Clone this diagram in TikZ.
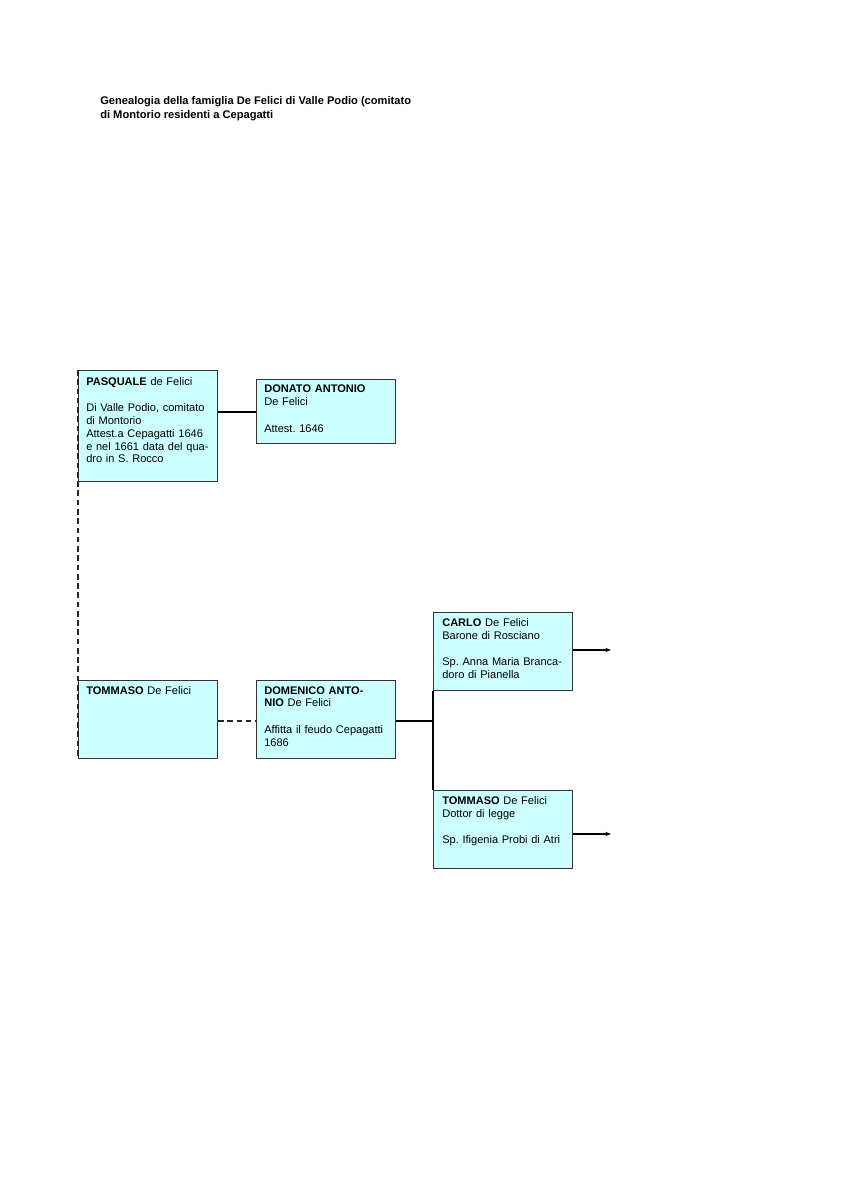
\documentclass[tikz,border=0pt]{standalone}
\usepackage{fontspec}
\setmainfont{Liberation Sans}
\usetikzlibrary{arrows.meta}
\frenchspacing
\definecolor{boxfill}{HTML}{CCFFFF}
\definecolor{boxline}{HTML}{333333}
\tikzset{
  fam/.style={draw=boxline, line width=0.7pt, fill=boxfill, rectangle, inner sep=0pt, anchor=north west,
    minimum width={139*0.7016pt}, minimum height={#1*0.7016pt}},
  txt/.style={anchor=north west, inner sep=0pt, align=left, text width={130*0.7016pt},
    font=\fontsize{7.75}{9}\selectfont},
  link/.style={line width=1.3pt, draw=black},
  dlink/.style={line width=1.3pt, draw=black!85, dash pattern=on 4pt off 2.5pt},
  arr/.style={line width=0.8pt, -{Stealth[length=4pt,width=3pt]}},
  title/.style={anchor=north west, inner sep=0pt, align=left, font=\fontsize{7.8}{10}\selectfont\bfseries}
}
\begin{document}
\begin{tikzpicture}[x=0.7016pt,y=-0.7016pt]
\useasboundingbox (0,0) rectangle (848,1200);
\node[title] (t) at (100,96) {Genealogia della famiglia De Felici di Valle Podio (comitato\\di Montorio residenti a Cepagatti};

\node[fam=111] (pasq) at (78,370) {};
\node[fam=64] (dona) at (256,379) {};
\node[fam=78] (tomm) at (78,680) {};
\node[fam=78] (dome) at (256,680) {};
\node[fam=78] (carl) at (433,612) {};
\node[fam=78] (tom2) at (433,790) {};

\node[txt] (pasqt) at (86,377) {\textbf{PASQUALE} de Felici\\[9.5pt]Di Valle Podio, comitato\\di Montorio\\Attest.a Cepagatti 1646\\e nel 1661 data del qua-\\dro in S. Rocco};
\node[txt] (donat) at (264,385) {\textbf{DONATO ANTONIO}\\De Felici\\[9.5pt]Attest. 1646};
\node[txt] (tommt) at (86,686) {\textbf{TOMMASO} De Felici};
\node[txt] (domet) at (264,686) {\textbf{DOMENICO ANTO-}\\\textbf{NIO} De Felici\\[9.5pt]Affitta il feudo Cepagatti\\1686};
\node[txt] (carlt) at (442,618) {\textbf{CARLO} De Felici\\Barone di Rosciano\\[9.5pt]Sp. Anna Maria Branca-\\doro di Pianella};
\node[txt] (tom2t) at (442,796) {\textbf{TOMMASO} De Felici\\Dottor di legge\\[9.5pt]Sp. Ifigenia Probi di Atri};

\draw[link] (pasq.east |- 0,412) -- (dona.west |- 0,412);
\draw[dlink] (pasq.north west) -- (tomm.south west);
\draw[dlink] (tomm.east |- 0,721) -- (dome.west |- 0,721);
\coordinate (fork) at (433,721);
\draw[link] (dome.east |- fork) -- (fork);
\draw[link] (carl.south west) -- (tom2.north west);
\coordinate (ca) at (611,650);
\coordinate (ta) at (611,834);
\draw[arr] (carl.east |- ca) -- (ca);
\draw[arr] (tom2.east |- ta) -- (ta);
\end{tikzpicture}
\end{document}
